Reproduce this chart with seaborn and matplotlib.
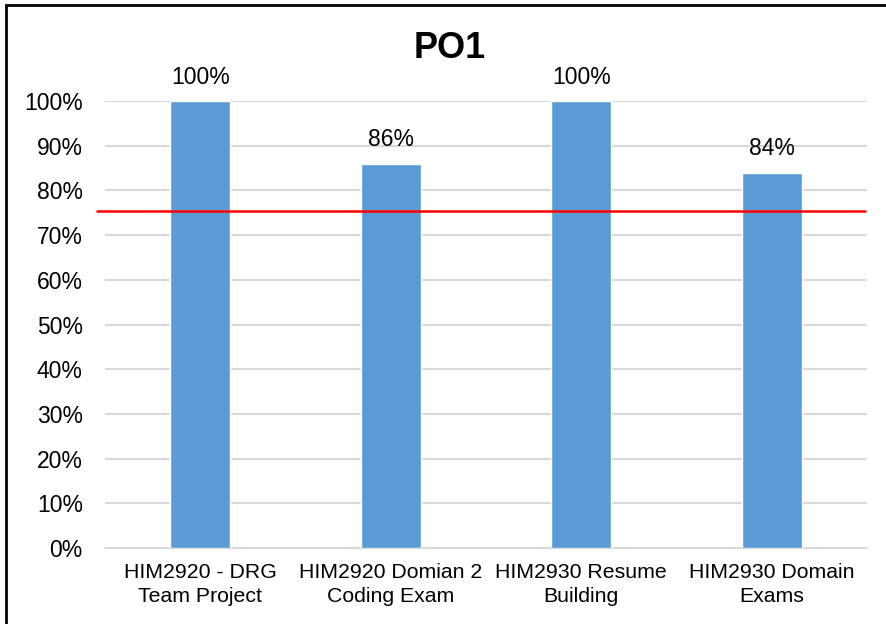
import matplotlib
matplotlib.use("Agg")
import matplotlib.pyplot as plt
import matplotlib.patches as mpatches
import seaborn as sns
import pandas as pd

# data
courses = ["HIM2920 - DRG\nTeam Project", "HIM2920 Domian 2\nCoding Exam",
           "HIM2930 Resume\nBuilding", "HIM2930 Domain\nExams"]
scores = [1.00, 0.86, 1.00, 0.84]
target = 0.753
title = "PO1"

sns.set_style("white")
plt.rcParams['font.family'] = ['Liberation Sans', 'DejaVu Sans']
plt.rcParams['text.color'] = 'black'
plt.rcParams['xtick.color'] = 'black'
plt.rcParams['ytick.color'] = 'black'

df = pd.DataFrame({"course": courses, "score": scores})

fig = plt.figure(figsize=(8.86, 6.24), dpi=100)
ax = fig.add_axes([105 / 886, 1 - 548 / 624, 762 / 886, 447 / 624])

sns.barplot(data=df, x="course", y="score", color="#5B9BD5", saturation=1,
            width=0.315, ax=ax, zorder=3)

ax.set_ylim(0, 1)
ax.set_xlim(-0.5, len(courses) - 0.5)
ticks = [i / 10 for i in range(11)]
ax.set_yticks(ticks)
ax.set_yticklabels([f"{int(round(t * 100))}%" for t in ticks])
ax.yaxis.grid(True, color="#D9D9D9", linewidth=1.5, zorder=0)
ax.set_axisbelow(True)
for s in ax.spines.values():
    s.set_visible(False)
ax.tick_params(axis="y", length=0, pad=16, labelsize=16.5)
ax.tick_params(axis="x", length=0, pad=11, labelsize=15.3)
for lbl in ax.get_xticklabels():
    lbl.set_linespacing(1.3)
ax.set_xlabel("")
ax.set_ylabel("")

# bottom axis line like gridline
ax.axhline(0, color="#D9D9D9", linewidth=1.5, zorder=1, clip_on=False)

# data labels
for i, v in enumerate(scores):
    ax.annotate(f"{int(round(v * 100))}%", (i, v), xytext=(0, 9),
                textcoords="offset points", ha="center", va="bottom",
                fontsize=16.5, annotation_clip=False)

# target line
ax.plot([-0.54, len(courses) - 0.51], [target, target], color="red",
        linewidth=1.8, zorder=4, clip_on=False)

fig.text(450 / 886, 1 - 48 / 624, title, ha="center", va="center",
         fontsize=26, fontweight="bold")

# outer border
fig.patches.append(mpatches.Rectangle((6 / 886, -0.1), 1.2, 1 - 5 / 624 + 0.1,
                                      transform=fig.transFigure, fill=False,
                                      edgecolor="black", linewidth=2))

fig.savefig("out.png", dpi=100)
